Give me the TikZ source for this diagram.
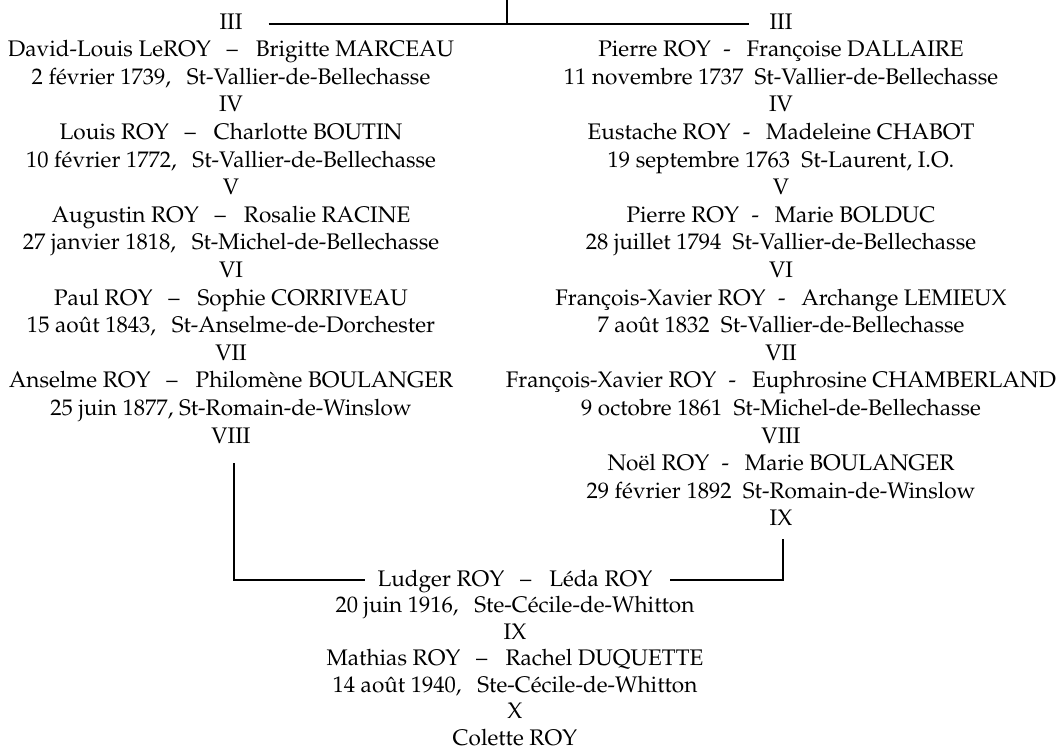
\documentclass[tikz,border=0pt]{standalone}
\usepackage[T1]{fontenc}
\renewcommand{\rmdefault}{ppl}
\usetikzlibrary{calc}
\newcommand\mydash{\hspace{0.7em}--\hspace{0.8em}}
\newcommand\myhy{\hspace{0.55em}-\hspace{0.7em}}
\newcommand\gapL{\hspace{0.7em}}
\newcommand\gapR{\hspace{0.5em}}
\begin{document}
\begin{tikzpicture}[x=0.75pt,y=-0.75pt,
  txt/.style={inner sep=0pt,anchor=base,font=\fontsize{16.9}{19}\selectfont,text=black},
  conn/.style={draw=black,line width=1.2pt}]
\useasboundingbox (0,0) rectangle (1064,751);
% left column
\foreach \t [count=\i from 0] in {III,
  {David-Louis LeROY\mydash Brigitte MARCEAU},
  {2 février 1739,\gapL St-Vallier-de-Bellechasse},
  IV,
  {Louis ROY\mydash Charlotte BOUTIN},
  {10 février 1772,\gapL St-Vallier-de-Bellechasse},
  V,
  {Augustin ROY\mydash Rosalie RACINE},
  {27 janvier 1818,\gapL St-Michel-de-Bellechasse},
  VI,
  {Paul ROY\mydash Sophie CORRIVEAU},
  {15 août 1843,\gapL St-Anselme-de-Dorchester},
  VII,
  {Anselme ROY\mydash Philomène BOULANGER},
  {25 juin 1877, St-Romain-de-Winslow},
  VIII}
  \node[txt] (L\i) at (231,29+27.6*\i) {\t};
% right column
\foreach \t [count=\i from 0] in {III,
  {Pierre ROY\myhy Françoise DALLAIRE},
  {11 novembre 1737\gapR St-Vallier-de-Bellechasse},
  IV,
  {Eustache ROY\myhy Madeleine CHABOT},
  {19 septembre 1763\gapR St-Laurent, I.O.},
  V,
  {Pierre ROY\myhy Marie BOLDUC},
  {28 juillet 1794\gapR St-Vallier-de-Bellechasse},
  VI,
  {François-Xavier ROY\myhy Archange LEMIEUX},
  {7 août 1832\gapR St-Vallier-de-Bellechasse},
  VII,
  {François-Xavier ROY\myhy Euphrosine CHAMBERLAND},
  {9 octobre 1861\gapR St-Michel-de-Bellechasse},
  VIII,
  {Noël ROY\myhy Marie BOULANGER},
  {29 février 1892\gapR St-Romain-de-Winslow},
  IX}
  \node[txt] (R\i) at (781,29+27.6*\i) {\t};
% bottom column
\foreach \t [count=\i from 0] in {
  {Ludger ROY\mydash Léda ROY},
  {20 juin 1916,\gapL Ste-Cécile-de-Whitton},
  IX,
  {Mathias ROY\mydash Rachel DUQUETTE},
  {14 août 1940,\gapL Ste-Cécile-de-Whitton},
  X,
  {Colette ROY}}
  \node[txt] (B\i) at (515,586+26.5*\i) {\t};
% connectors
\coordinate (top) at (507,0);
\coordinate (hl) at ($(L0.east)+(26,3)$);
\coordinate (hr) at ($(R0.west)+(-20,3)$);
\draw[conn] (hl) -- (hr);
\draw[conn] (top) -- (top |- hl);
\coordinate (lt) at ($(L15.south)+(3,20)$);
\coordinate (rt) at ($(R18.south)+(2,13)$);
\draw[conn] (lt) |- ($(B0.west)+(-12,-1)$);
\draw[conn] (rt) |- ($(B0.east)+(17,-1)$);
\end{tikzpicture}
\end{document}
